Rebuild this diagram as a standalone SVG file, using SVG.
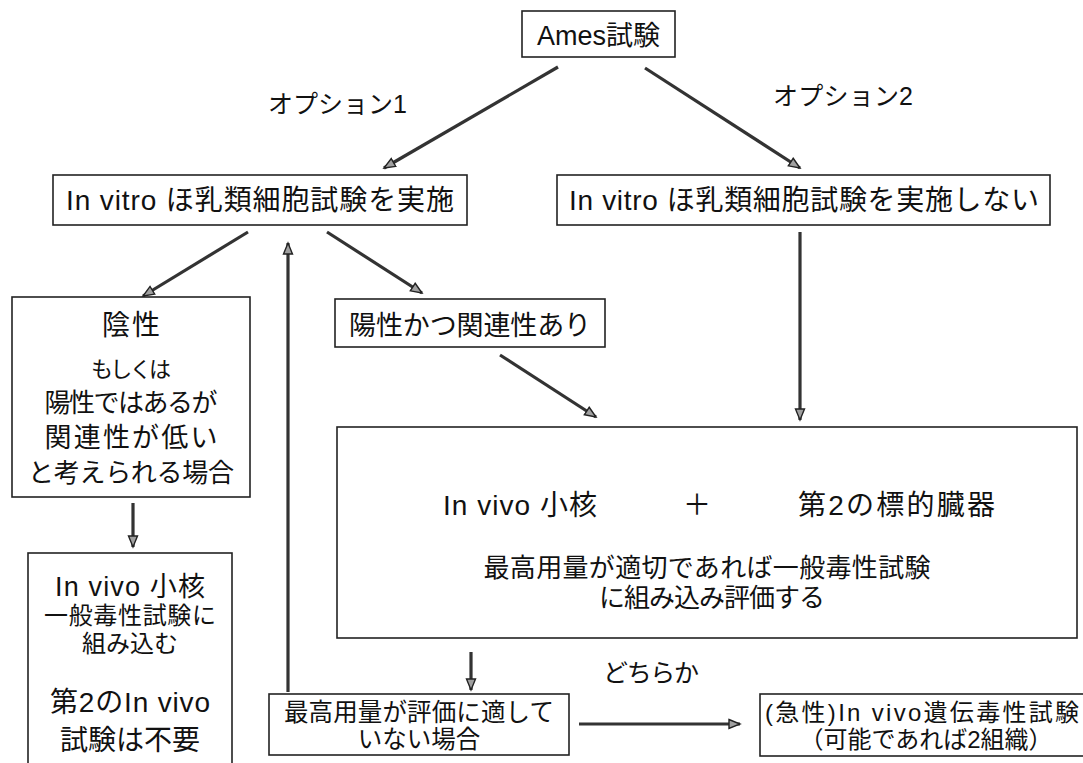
<svg xmlns="http://www.w3.org/2000/svg" width="1083" height="763" viewBox="0 0 1083 763">
<defs>
<marker id="ah" markerUnits="userSpaceOnUse" markerWidth="14" markerHeight="12" refX="12" refY="6" orient="auto">
<path d="M1,1.5 L12,6 L1,10.5 z" fill="#a0a0a0" stroke="#222" stroke-width="1.4"/>
</marker>
</defs>
<style>
.box{fill:#fff;stroke:#222;stroke-width:1.6}
text{font-family:"Liberation Sans","Noto Sans CJK JP",sans-serif;fill:#111}
.c{text-anchor:middle}
#connectors line{stroke:#333;stroke-width:3.2;marker-end:url(#ah)}
</style>
<rect width="1083" height="763" fill="#fff"/>

<g id="connectors">
<line x1="558" y1="67" x2="384" y2="168"/>
<line x1="645" y1="68" x2="800" y2="168"/>
<line x1="248" y1="232" x2="143" y2="296"/>
<line x1="327" y1="232" x2="422" y2="293"/>
<line x1="288" y1="692" x2="288" y2="243"/>
<line x1="500" y1="355" x2="596" y2="417"/>
<line x1="800" y1="232" x2="800" y2="420"/>
<line x1="133" y1="503" x2="133" y2="547"/>
<line x1="471" y1="652" x2="471" y2="690"/>
<line x1="579" y1="724" x2="740" y2="724"/>
</g>

<g id="labels">
<text x="268" y="113" font-size="25" textLength="139">オプション1</text>
<text x="773" y="105" font-size="25" textLength="140">オプション2</text>
<text x="651" y="682" font-size="25" class="c" textLength="96">どちらか</text>
</g>

<g id="ames">
<rect class="box" x="522" y="11" width="153" height="46"/>
<text x="598.5" y="45" font-size="27" class="c" textLength="123">Ames試験</text>
</g>

<g id="option1">
<rect class="box" x="53" y="175" width="414" height="50"/>
<text x="260" y="210" font-size="28" class="c" textLength="388">In vitro ほ乳類細胞試験を実施</text>
</g>

<g id="option2">
<rect class="box" x="557" y="175" width="493" height="50"/>
<text x="804" y="210" font-size="28" class="c" textLength="470">In vitro ほ乳類細胞試験を実施しない</text>
</g>

<g id="positive">
<rect class="box" x="335" y="299" width="270" height="48"/>
<text x="470" y="335" font-size="27" class="c" textLength="242">陽性かつ関連性あり</text>
</g>

<g id="negative">
<rect class="box" x="12" y="297" width="238" height="200"/>
<text x="131" y="335" font-size="28" class="c" textLength="58">陰性</text>
<text x="131" y="377" font-size="22" class="c" textLength="80">もしくは</text>
<text x="131" y="412" font-size="26" class="c" textLength="173">陽性ではあるが</text>
<text x="131" y="447" font-size="27" class="c" textLength="173">関連性が低い</text>
<text x="131" y="482" font-size="26" class="c" textLength="206">と考えられる場合</text>
</g>

<g id="micronucleus-general">
<rect class="box" x="28" y="553" width="204" height="220"/>
<text x="130" y="596" font-size="27" class="c" textLength="150">In vivo 小核</text>
<text x="130" y="624" font-size="24" class="c" textLength="172">一般毒性試験に</text>
<text x="130" y="652" font-size="24" class="c" textLength="96">組み込む</text>
<text x="130" y="712" font-size="28" class="c" textLength="160">第2のIn vivo</text>
<text x="130" y="750" font-size="28" class="c" textLength="140">試験は不要</text>
</g>

<g id="combined">
<rect class="box" x="337" y="427" width="740" height="211"/>
<text x="520" y="515" font-size="28" class="c" textLength="154">In vivo 小核</text>
<text x="697" y="515" font-size="28" class="c">＋</text>
<text x="896.5" y="515" font-size="28" class="c" textLength="197">第2の標的臓器</text>
<text x="707" y="577" font-size="26" class="c" textLength="447">最高用量が適切であれば一般毒性試験</text>
<text x="712" y="607" font-size="26" class="c" textLength="226">に組み込み評価する</text>
</g>

<g id="dose-unsuitable">
<rect class="box" x="269" y="694" width="300" height="61"/>
<text x="419" y="721" font-size="24.5" class="c" textLength="270">最高用量が評価に適して</text>
<text x="419" y="748" font-size="24.5" class="c">いない場合</text>
</g>

<g id="acute-genotox">
<rect class="box" x="760" y="694" width="330" height="62"/>
<text x="765" y="721" font-size="24" textLength="314">(急性)In vivo遺伝毒性試験</text>
<text x="926" y="748" font-size="24" class="c">（可能であれば2組織）</text>
</g>
</svg>
